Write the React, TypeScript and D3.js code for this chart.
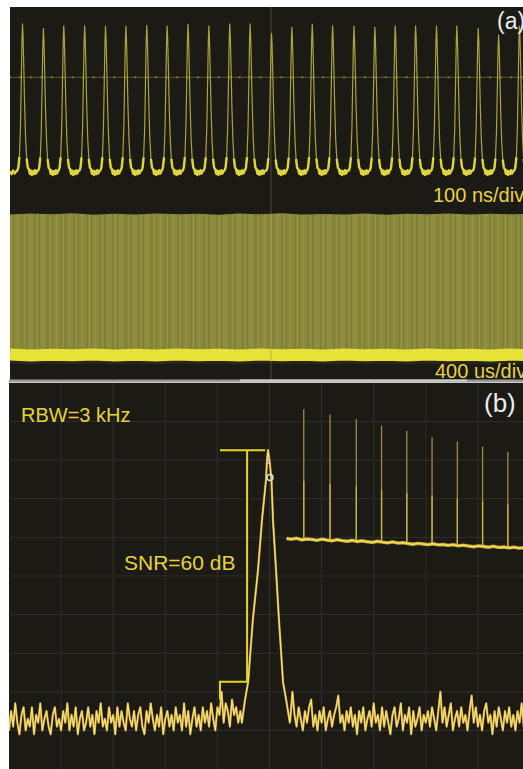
import * as d3 from 'd3'

const W = 523
const H = 769

// ---- (a) upper trace, 100 ns/div: pulse train
const pulseTimes = [24, 64, 103, 143, 183, 222, 262, 301, 341, 381, 421, 460, 501, 540, 579, 618, 659, 699, 738, 777, 817, 856, 897, 936, 976]
const pulsePeaks = [100.7, 97.5, 99.5, 99.5, 99.3, 99.3, 99.8, 99.3, 100.5, 99.5, 100.7, 100.7, 94.4, 98.4, 100.5, 99.5, 99.3, 98.4, 99.5, 99.5, 99.3, 99.3, 97.8, 93.2, 99.3]
// one pulse: [ns from peak, % of peak]
const pulseShape = [[-10, 1], [-8, 3], [-6, 10], [-4, 30], [-2.5, 60], [-1, 90], [0, 100], [1, 92], [2.5, 70], [4, 45], [6, 22], [8, 9], [10, 3]]
// ringing on the floor after each pulse: [ns from peak, level]
const floorRipple = [[12, 2], [14, -1.2], [16, 1], [18, -2], [20, 0.5], [22, -1.5], [24, 1.2], [26, -1], [28, 0.8]]
const leadIn = [[0, 0.5], [3, -1.5], [6, 1], [9, -1], [12, 0.5]]

// ---- (a) lower trace, 400 us/div: envelope of the train
const envelopeTop = [99.6, 100.3, 99.8, 100.5, 99.4, 100.1, 99.7, 100.4, 99.9, 100.2, 99.5, 100.3, 99.8, 100.6, 99.6, 100.0, 99.7, 100.4, 99.5, 100.2, 99.9, 100.3, 99.6, 100.1, 99.8, 100.2]
const envelopeFloor = [0.3, -0.4, 0.2, -0.2, 0.4, -0.3, 0.1, -0.4, 0.3, -0.1, 0.2, -0.3, 0.4, -0.2, 0.1, -0.4, 0.3, -0.2, 0.2, -0.3, 0.4, -0.1, 0.2, -0.4, 0.3, -0.2]

// ---- (b) RF spectrum, 10 dB/div, 10 kHz/div
const noiseStartKHz = -50
const noiseStepKHz = 0.4
const noiseFloor = [
  -90, -85, -89, -83, -88, -91, -86, -84, -90, -87, -89, -84, -91, -86, -88, -83, -90, -87, -85, -89,
  -91, -86, -84, -89, -87, -90, -85, -88, -83, -90, -86, -89, -84, -91, -87, -85, -90, -88, -84, -89,
  -86, -91, -85, -88, -83, -89, -87, -90, -84, -88, -86, -91, -84, -89, -85, -88, -90, -83, -87, -89,
  -85, -90, -86, -84, -89, -91, -85, -88, -83, -87, -90, -86, -89, -84, -91, -87, -85, -89, -86, -90,
  -84, -88, -86, -90, -83, -89, -85, -91, -87, -84, -89, -86, -90, -84, -88, -85, -89, -83, -87, -90,
  -84, -86, -80, -88, -83, -85, -89, -82, -86, -84, -88, -85, -88, -88, -88, -88, -88, -88, -88, -88,
  -88, -88, -88, -88, -88, -88, -88, -88, -88, -88, -88, -88, -88, -88, -88, -87, -80, -86, -89, -84,
  -87, -90, -85, -88, -84, -82, -89, -86, -90, -85, -88, -84, -90, -87, -85, -89, -86, -84, -81, -88,
  -86, -90, -85, -88, -84, -89, -86, -91, -85, -88, -84, -90, -87, -85, -89, -83, -88, -86, -90, -84,
  -89, -85, -88, -91, -86, -84, -89, -87, -83, -90, -86, -88, -84, -91, -85, -89, -87, -84, -90, -86,
  -88, -85, -89, -84, -87, -90, -85, -80, -88, -84, -89, -86, -83, -90, -87, -85, -89, -84, -88, -86,
  -90, -85, -81, -88, -84, -89, -86, -90, -85, -83, -88, -86, -91, -85, -89, -84, -87, -90, -85, -88,
  -84, -89, -86, -90, -85, -88, -83, -89, -86, -91, -85, -88, -84, -90, -86, -89, -85, -88,
]
// carrier line: [kHz, dBm]
const peakShape = [[-5.3, -88], [-4.7, -82.1], [-4.1, -77.5], [-3.2, -61.4], [-2.2, -48.4], [-1.44, -35.5], [-0.67, -25.1], [-0.48, -20], [-0.29, -17.4], [0, -20], [0.38, -25.1], [0.67, -35.5], [1.25, -48.4], [1.82, -61.4], [2.6, -77.5], [3.2, -82.1], [3.9, -88]]
const snrTop = -17.4
const snrBottom = -77.4

// inset: wide-span harmonics
const harmonicMHz = [25, 51, 77, 102, 127, 152, 177, 202, 227]
const harmonicDb = [-14.1, -16.3, -18.3, -21.2, -23.6, -26.3, -28.2, -30.4, -32.6]
const insetStartMHz = 8
const insetStepMHz = 5
const insetFloor = [-70.6, -70.9, -70.5, -71.2, -70.8, -71.0, -71.4, -70.9, -71.3, -71.6, -71.1, -71.5, -71.8, -71.4, -71.9, -71.6, -72.0, -72.3, -71.8, -72.2, -72.5, -72.1, -72.6, -72.4, -72.8, -73.1, -72.7, -73.0, -73.3, -72.9, -73.4, -73.2, -73.6, -73.3, -73.8, -73.5, -73.9, -74.2, -73.8, -74.1, -74.4, -74.0, -74.5, -74.3, -74.7, -74.4, -74.8, -74.6]

const font = '"Liberation Sans", Arial, sans-serif'
const bg = '#1c1a15'

export default function App() {
  // upper panel scales
  const xFast = d3.scaleLinear().domain([0, 1000]).range([10, 532])
  const yFast = d3.scaleLinear().domain([0, 100]).range([172, 25])
  const xSlow = d3.scaleLinear().domain([0, envelopeTop.length - 1]).range([10, 532])
  const ySlow = d3.scaleLinear().domain([0, 100]).range([355, 214])

  const fastPts: [number, number][] = leadIn.map((d) => [d[0], d[1]] as [number, number])
  pulseTimes.forEach((t, i) => {
    pulseShape.forEach(([dt, v]) => fastPts.push([t + dt, (v * pulsePeaks[i]) / 100]))
    floorRipple.forEach(([dt, v]) => fastPts.push([t + dt, v]))
  })
  const fastLine = d3.line<[number, number]>().x((d) => xFast(d[0])).y((d) => yFast(d[1]))
  const floorLine = d3
    .line<[number, number]>()
    .defined((d) => d[1] < 12)
    .x((d) => xFast(d[0]))
    .y((d) => yFast(d[1]))

  const envArea = d3
    .area<number>()
    .x((_, i) => xSlow(i))
    .y0((_, i) => ySlow(envelopeFloor[i]))
    .y1((d) => ySlow(d))
  const envFloorLine = d3.line<number>().x((_, i) => xSlow(i)).y((d) => ySlow(d))

  // spectrum scales
  const fx = d3.scaleLinear().domain([-50, 50]).range([9, 530])
  const fy = d3.scaleLinear().domain([0, -100]).range([383, 769])
  const pkLo = peakShape[0][0]
  const pkHi = peakShape[peakShape.length - 1][0]
  const spec: [number, number][] = []
  noiseFloor.forEach((v, i) => {
    const f = noiseStartKHz + i * noiseStepKHz
    if (f < pkLo) spec.push([f, v])
  })
  peakShape.forEach((p) => spec.push([p[0], p[1]]))
  noiseFloor.forEach((v, i) => {
    const f = noiseStartKHz + i * noiseStepKHz
    if (f > pkHi) spec.push([f, v])
  })
  const specLine = d3.line<[number, number]>().x((d) => fx(d[0])).y((d) => fy(d[1]))

  const ix = d3.scaleLinear().domain([0, 242]).range([278.5, 523])
  const iy = d3.scaleLinear().domain([-10, -80]).range([400, 560])
  const insetLine = d3
    .line<number>()
    .x((_, i) => ix(insetStartMHz + i * insetStepMHz))
    .y((d) => iy(d))
  const floorAt = (f: number) =>
    insetFloor[Math.max(0, Math.min(insetFloor.length - 1, Math.round((f - insetStartMHz) / insetStepMHz)))]

  const xGrid = d3.range(-40, 50, 10)
  const yGrid = d3.range(-10, -100, -10)
  const topDots = d3.range(10, 523, 10.44)

  const bracketLeft = -9.5
  const bracketMid = -4.3
  const bracketRight = -0.85

  return (
    <svg
      width={W}
      height={H}
      viewBox={`0 0 ${W} ${H}`}
      style={{ position: 'absolute', left: 0, top: 0, background: '#fff' }}
    >
      <defs>
        <clipPath id="clipA">
          <rect x={10} y={7} width={513} height={373} />
        </clipPath>
        <clipPath id="clipB">
          <rect x={9} y={383} width={514} height={386} />
        </clipPath>
        <pattern id="stripes" width={13} height={10} patternUnits="userSpaceOnUse">
          <rect width={13} height={10} fill="#8c8a3c" />
          <rect x={0} width={1} height={10} fill="#7b7933" />
          <rect x={4} width={1} height={10} fill="#969445" />
          <rect x={8} width={1.5} height={10} fill="#807e36" />
          <rect x={11} width={1} height={10} fill="#939142" />
        </pattern>
      </defs>

      {/* panel (a) */}
      <rect x={10} y={7} width={513} height={373} fill={bg} />
      <g clipPath="url(#clipA)">
        <line x1={10} x2={523} y1={77.3} y2={77.3} stroke="#5d5830" strokeWidth={1} />
        {topDots.map((x, i) => (
          <rect key={i} x={x - 1} y={76.3} width={2} height={2} fill="#7d7538" />
        ))}
        <line x1={xFast(500)} x2={xFast(500)} y1={7} y2={380} stroke="#4f4b32" strokeWidth={1} />

        <path d={fastLine(fastPts) ?? ''} fill="none" stroke="#aaa23c" strokeWidth={1.2} strokeLinejoin="round" />
        <path d={floorLine(fastPts) ?? ''} fill="none" stroke="#ddd53a" strokeWidth={2.4} strokeLinejoin="round" />

        <path d={envArea(envelopeTop) ?? ''} fill="url(#stripes)" />
        <path
          d={envFloorLine(envelopeFloor) ?? ''}
          fill="none"
          stroke="#2e2c1c"
          strokeWidth={4}
          transform="translate(0,7)"
          opacity={0.7}
        />
        <path d={envFloorLine(envelopeFloor) ?? ''} fill="none" stroke="#e6e236" strokeWidth={12} />
        <line x1={xFast(500)} x2={xFast(500)} y1={214} y2={362} stroke="#a6a450" strokeWidth={1} opacity={0.6} />

        <text x={433} y={202} fill="#e6d243" fontFamily={font} fontSize={20}>
          100 ns/div
        </text>
        <text x={435} y={378} fill="#e6d243" fontFamily={font} fontSize={20}>
          400 us/div
        </text>
        <text x={497} y={29} fill="#ececec" fontFamily={font} fontSize={23}>
          (a)
        </text>
      </g>

      {/* separator */}
      <rect x={9} y={379.5} width={514} height={3} fill="#9c9c9c" />
      <rect x={240} y={379.5} width={227} height={2} fill="#d0d0d0" />

      {/* panel (b) */}
      <rect x={9} y={383} width={514} height={386} fill={bg} />
      <g clipPath="url(#clipB)">
        {xGrid.map((f) => (
          <line key={`v${f}`} x1={fx(f)} x2={fx(f)} y1={383} y2={769} stroke="#302e2a" strokeWidth={1} />
        ))}
        {yGrid.map((v) => (
          <line key={`h${v}`} x1={9} x2={523} y1={fy(v)} y2={fy(v)} stroke="#302e2a" strokeWidth={1} />
        ))}

        {/* inset harmonics */}
        {harmonicMHz.map((f, i) => {
          const base = iy(floorAt(f))
          const top = iy(harmonicDb[i])
          return (
            <g key={`h${i}`}>
              <line x1={ix(f)} x2={ix(f)} y1={top} y2={base} stroke="#a08945" strokeWidth={1.3} />
              <line x1={ix(f)} x2={ix(f)} y1={base - (base - top) * 0.45} y2={base} stroke="#c8b442" strokeWidth={1.3} />
            </g>
          )
        })}
        <path d={insetLine(insetFloor) ?? ''} fill="none" stroke="#c9a640" strokeWidth={3.4} strokeLinejoin="round" />
        <path d={insetLine(insetFloor) ?? ''} fill="none" stroke="#efe050" strokeWidth={1.6} strokeLinejoin="round" />

        {/* main spectrum */}
        <path d={specLine(spec) ?? ''} fill="none" stroke="#c3904a" strokeWidth={2.2} strokeLinejoin="round" />
        <path d={specLine(spec) ?? ''} fill="none" stroke="#f3e46a" strokeWidth={1.2} strokeLinejoin="round" />

        {/* marker */}
        <text x={fx(0) - 3} y={fy(-21)} fill="#d8d8d8" fontFamily={font} fontSize={8}>
          1
        </text>
        <circle cx={fx(0.1)} cy={fy(-24.5)} r={3} fill="none" stroke="#e0e0e0" strokeWidth={1.4} />

        {/* SNR bracket */}
        <path
          d={`M${fx(bracketLeft)},${fy(snrTop)}H${fx(bracketRight)}M${fx(bracketMid)},${fy(snrTop)}V${fy(snrBottom)}H${fx(bracketLeft)}V${fy(-82)}`}
          fill="none"
          stroke="#e8d31c"
          strokeWidth={2}
        />

        <text x={21} y={422} fill="#e6d23a" fontFamily={font} fontSize={20}>
          RBW=3 kHz
        </text>
        <text x={124} y={570} fill="#e6d23a" fontFamily={font} fontSize={21}>
          SNR=60 dB
        </text>
        <text x={484} y={412} fill="#ececec" fontFamily={font} fontSize={26}>
          (b)
        </text>
      </g>
    </svg>
  )
}
